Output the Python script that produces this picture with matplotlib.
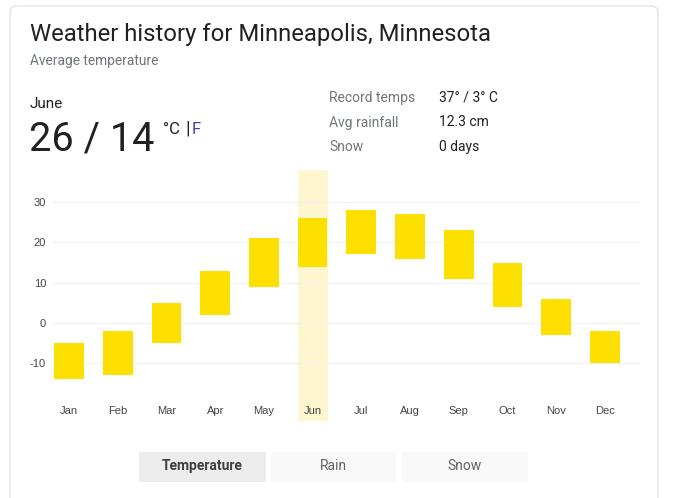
import matplotlib
matplotlib.use("Agg")
import matplotlib.pyplot as plt
from matplotlib.patches import FancyBboxPatch, Rectangle

months = ["Jan", "Feb", "Mar", "Apr", "May", "Jun", "Jul", "Aug", "Sep", "Oct", "Nov", "Dec"]
highs = [-5, -2, 5, 13, 21, 26, 28, 27, 23, 15, 6, -2]
lows = [-14, -13, -5, 2, 9, 14, 17, 16, 11, 4, -3, -10]
y_ticks = [-10, 0, 10, 20, 30]
selected = "Jun"
info_labels = ["Record temps", "Avg rainfall", "Snow"]
info_values = ["37° / 3° C", "12.3 cm", "0 days"]
tabs = ["Temperature", "Rain", "Snow"]

W, H = 679, 498
fig = plt.figure(figsize=(W / 100, H / 100), dpi=100)
fig.patch.set_facecolor("white")

def fx(x):
    return x / W

def fy(y):
    return 1 - y / H

# card border
card = FancyBboxPatch((fx(10), fy(520)), fx(648), (520 - 6) / H,
                      boxstyle="round,pad=0,rounding_size=0.012",
                      transform=fig.transFigure, facecolor="none",
                      edgecolor="#e4e4e4", linewidth=1.0, zorder=-1)
fig.patches.append(card)

RB = "Roboto"
fig.text(fx(30), fy(34), "Weather history for Minneapolis, Minnesota", fontsize=17.2,
         family=RB, color="#202124", va="center", ha="left")
fig.text(fx(30), fy(61), "Average temperature", fontsize=9.9, family=RB,
         color="#70757a", va="center", ha="left")
fig.text(fx(30), fy(104), "June", fontsize=11, family=RB, color="#202124",
         va="center", ha="left")
fig.text(fx(29), fy(139), "26 / 14", fontsize=28.5, family=RB, color="#202124",
         va="center", ha="left")
fig.text(fx(163), fy(130), "°C", fontsize=12, family=RB, color="#202124",
         va="center", ha="left")
fig.text(fx(185), fy(129), "|", fontsize=14, family=RB, color="#202124",
         va="center", ha="left")
fig.text(fx(192), fy(130), "F", fontsize=12, family=RB, color="#4d3aa8",
         va="center", ha="left")

for i, (lab, val) in enumerate(zip(info_labels, info_values)):
    yy = 98 + i * 24.5
    fig.text(fx(329), fy(yy), lab, fontsize=10, family=RB, color="#70757a",
             va="center", ha="left")
    fig.text(fx(439), fy(yy), val, fontsize=10, family=RB, color="#202124",
             va="center", ha="left")

# chart axes
ax_l, ax_r, ax_t, ax_b = 53, 640, 170, 421
ax = fig.add_axes([fx(ax_l), fy(ax_b), (ax_r - ax_l) / W, (ax_b - ax_t) / H])
ax.set_facecolor("none")
px_per_unit = 4.03
zero_px = 323
ax.set_ylim((zero_px - ax_b) / px_per_unit, (zero_px - ax_t) / px_per_unit)
spacing = 48.7
ax.set_xlim(-16 / spacing, 11 + 35 / spacing)

xs = list(range(len(months)))
sel = months.index(selected)
ax.axvspan(sel - 0.31, sel + 0.31, color="#fdf6cf", zorder=0, lw=0)
ax.bar(xs, [h - l for h, l in zip(highs, lows)], bottom=lows, width=0.61,
       color="#fde000", zorder=2, linewidth=0)

ax.set_yticks(y_ticks)
ax.set_yticklabels([str(t) for t in y_ticks])
ax.yaxis.grid(True, color="#f1f1f1", linewidth=0.8)
ax.set_axisbelow(True)
ax.tick_params(axis="y", length=0, pad=5, labelsize=8, labelcolor="#444444")
for lab in ax.get_yticklabels():
    lab.set_family("Liberation Sans")
ax.set_xticks([])
for s in ax.spines.values():
    s.set_visible(False)

for i, m in enumerate(months):
    ax.text(i, (ax_b - 411) / (ax_b - ax_t), m, transform=ax.get_xaxis_transform(),
            ha="center", va="center", fontsize=8, family="Liberation Sans",
            color="#444444")

# tabs
tab_boxes = [(139, 266), (271, 396), (402, 528)]
for i, (name, (x0, x1)) in enumerate(zip(tabs, tab_boxes)):
    rect = Rectangle((fx(x0), fy(482)), fx(x1 - x0), (482 - 452) / H,
                     transform=fig.transFigure,
                     facecolor="#ececec" if i == 0 else "#f8f8f8",
                     edgecolor="none", zorder=1)
    fig.patches.append(rect)
    fig.text(fx((x0 + x1) / 2), fy(466), name, fontsize=10, family=RB,
             color="#3c4043" if i == 0 else "#5f6368",
             fontweight="bold" if i == 0 else "normal",
             ha="center", va="center")

fig.savefig("out.png", dpi=100)
